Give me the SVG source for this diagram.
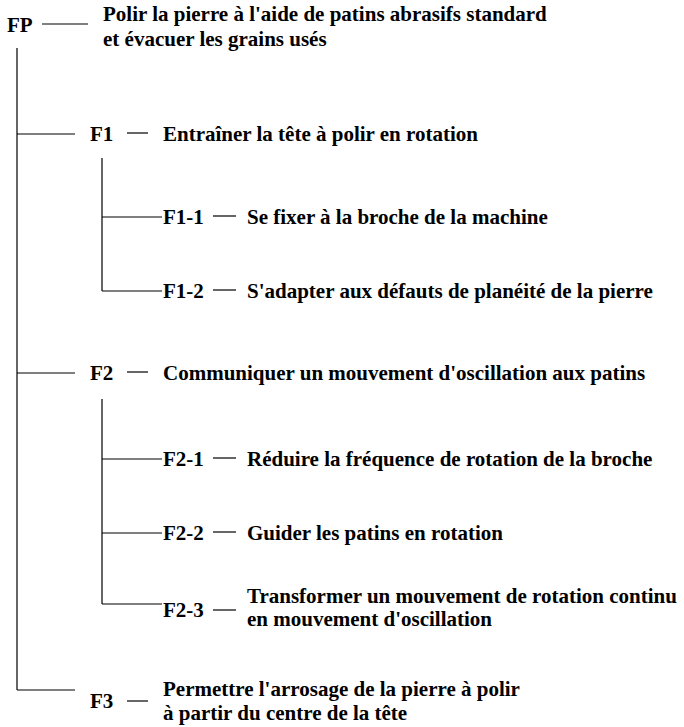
<svg xmlns="http://www.w3.org/2000/svg" width="684" height="727" viewBox="0 0 684 727">
<style>
text{font-family:"Liberation Serif","Times New Roman",serif;font-weight:bold;font-size:21px;fill:#000}
line{stroke:#000;stroke-width:1.2}
</style>
<rect width="684" height="727" fill="#fff"/>
<g id="connectors">
<line x1="17" y1="48" x2="17" y2="690"/>
<line x1="17" y1="134" x2="75" y2="134"/>
<line x1="17" y1="373" x2="75" y2="373"/>
<line x1="17" y1="690" x2="75" y2="690"/>
<line x1="102" y1="158" x2="102" y2="291"/>
<line x1="102" y1="217" x2="162" y2="217"/>
<line x1="102" y1="291" x2="162" y2="291"/>
<line x1="102" y1="399" x2="102" y2="604"/>
<line x1="102" y1="459" x2="162" y2="459"/>
<line x1="102" y1="533" x2="162" y2="533"/>
<line x1="102" y1="604" x2="162" y2="604"/>
</g>
<g id="FP">
<text x="7" y="32">FP</text>
<line x1="42" y1="24" x2="88" y2="24"/>
<text x="103" y="21">Polir la pierre à l'aide de patins abrasifs standard</text>
<text x="103" y="46">et évacuer les grains usés</text>
</g>
<g id="F1">
<text x="90" y="141">F1</text>
<line x1="127" y1="133" x2="148" y2="133"/>
<text x="163" y="141">Entraîner la tête à polir en rotation</text>
</g>
<g id="F1-1">
<text x="163" y="224">F1-1</text>
<line x1="213" y1="216" x2="236" y2="216"/>
<text x="247" y="224">Se fixer à la broche de la machine</text>
</g>
<g id="F1-2">
<text x="163" y="298">F1-2</text>
<line x1="213" y1="290" x2="236" y2="290"/>
<text x="247" y="298">S'adapter aux défauts de planéité de la pierre</text>
</g>
<g id="F2">
<text x="90" y="380">F2</text>
<line x1="127" y1="372" x2="148" y2="372"/>
<text x="163" y="380">Communiquer un mouvement d'oscillation aux patins</text>
</g>
<g id="F2-1">
<text x="163" y="466">F2-1</text>
<line x1="213" y1="458" x2="236" y2="458"/>
<text x="247" y="466">Réduire la fréquence de rotation de la broche</text>
</g>
<g id="F2-2">
<text x="163" y="540">F2-2</text>
<line x1="213" y1="532" x2="236" y2="532"/>
<text x="247" y="540">Guider les patins en rotation</text>
</g>
<g id="F2-3">
<text x="163" y="617">F2-3</text>
<line x1="213" y1="610" x2="236" y2="610"/>
<text x="247" y="603">Transformer un mouvement de rotation continu</text>
<text x="247" y="626">en mouvement d'oscillation</text>
</g>
<g id="F3">
<text x="90" y="708">F3</text>
<line x1="127" y1="701" x2="148" y2="701"/>
<text x="163" y="696">Permettre l'arrosage de la pierre à polir</text>
<text x="163" y="720">à partir du centre de la tête</text>
</g>
</svg>
